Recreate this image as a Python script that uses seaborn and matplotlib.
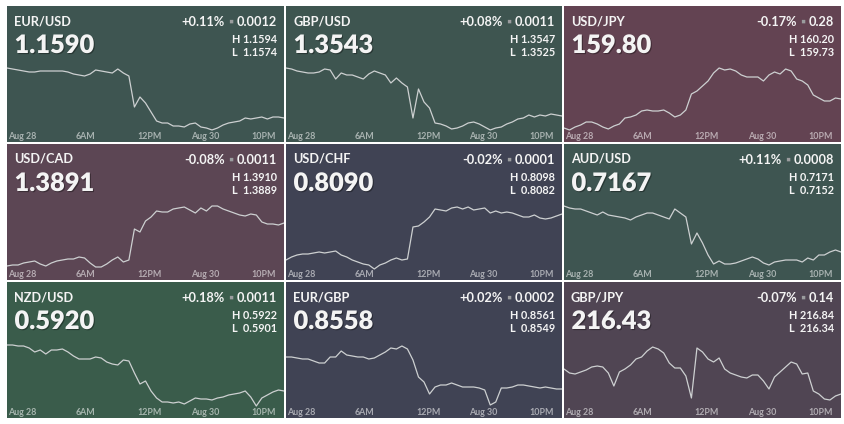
import matplotlib
matplotlib.use("Agg")
import matplotlib.pyplot as plt
import matplotlib.patheffects as pe
import seaborn as sns

# ------------------------------------------------------------
# DATA
# ------------------------------------------------------------
pairs = ["EUR/USD", "GBP/USD", "USD/JPY",
         "USD/CAD", "USD/CHF", "AUD/USD",
         "NZD/USD", "EUR/GBP", "GBP/JPY"]
prices = ["1.1590", "1.3543", "159.80",
          "1.3891", "0.8090", "0.7167",
          "0.5920", "0.8558", "216.43"]
pct_changes = ["+0.11%", "+0.08%", "-0.17%",
               "-0.08%", "-0.02%", "+0.11%",
               "+0.18%", "+0.02%", "-0.07%"]
abs_changes = ["0.0012", "0.0011", "0.28",
               "0.0011", "0.0001", "0.0008",
               "0.0011", "0.0002", "0.14"]
highs = ["1.1594", "1.3547", "160.20",
         "1.3910", "0.8098", "0.7171",
         "0.5922", "0.8561", "216.84"]
lows = ["1.1574", "1.3525", "159.73",
        "1.3889", "0.8082", "0.7152",
        "0.5901", "0.8549", "216.34"]
panel_colors = ["#3e5551", "#3e5550", "#634352",
                "#5c4654", "#404354", "#3e5551",
                "#3a5c4b", "#404354", "#504553"]

# session time, % of the window shown
session = list(range(0, 101, 2))
tick_pos = [0.5, 28.5, 51.5, 71.5, 92.5]
tick_labels = ["Aug 28", "6AM", "12PM", "Aug 30", "10PM"]

# relative sparkline levels
eurusd = [74, 73, 72, 71, 70, 70, 71, 71, 71, 71, 71, 70, 68, 67, 66, 68, 72,
          71, 70, 69, 73, 69, 66, 35, 45, 39, 30, 21, 19, 19, 16, 16, 15, 18,
          19, 15, 14, 12, 14, 17, 19, 20, 21, 24, 23, 24, 25, 23, 25, 25, 24]
gbpusd = [74, 73, 71, 70, 69, 69, 70, 73, 72, 63, 69, 67, 67, 65, 63, 68, 71,
          69, 67, 59, 64, 59, 55, 24, 53, 40, 34, 19, 18, 16, 13, 14, 16, 19,
          20, 18, 15, 12, 14, 15, 18, 20, 23, 24, 27, 25, 27, 26, 28, 27, 26]
usdjpy = [14, 12, 15, 17, 20, 20, 18, 15, 13, 16, 18, 24, 25, 27, 31, 32, 31,
          31, 32, 29, 25, 27, 32, 48, 51, 56, 61, 69, 74, 72, 73, 71, 67, 65,
          65, 65, 61, 67, 70, 68, 73, 71, 63, 61, 57, 47, 44, 41, 41, 44, 43]
usdcad = [14, 15, 15, 17, 18, 19, 16, 14, 17, 19, 20, 21, 21, 23, 22, 17, 13,
          13, 16, 20, 23, 18, 20, 51, 48, 59, 63, 69, 68, 68, 71, 72, 73, 70,
          67, 72, 69, 74, 74, 71, 69, 67, 65, 64, 66, 65, 58, 56, 56, 55, 57]
usdchf = [20, 23, 25, 26, 26, 27, 28, 27, 28, 29, 25, 23, 20, 18, 16, 15, 11,
          15, 17, 20, 22, 20, 21, 53, 54, 58, 63, 71, 70, 69, 72, 73, 71, 73,
          70, 71, 72, 67, 69, 67, 68, 67, 65, 63, 63, 65, 62, 61, 62, 64, 66]
audusd = [74, 72, 71, 71, 69, 67, 65, 68, 65, 64, 63, 62, 60, 63, 65, 67, 67,
          65, 63, 61, 71, 67, 63, 36, 47, 37, 25, 16, 19, 16, 16, 17, 19, 21,
          23, 21, 17, 15, 18, 19, 20, 20, 20, 18, 22, 20, 25, 25, 28, 30, 28]
nzdusd = [73, 73, 72, 72, 70, 66, 68, 64, 68, 68, 69, 66, 62, 59, 59, 59, 61,
          60, 56, 54, 53, 58, 57, 45, 34, 37, 27, 20, 16, 16, 15, 16, 14, 17,
          20, 19, 19, 18, 20, 21, 23, 24, 25, 27, 21, 12, 20, 23, 26, 28, 27]
eurgbp = [61, 61, 60, 59, 59, 57, 55, 55, 61, 61, 67, 63, 62, 61, 61, 59, 60,
          63, 66, 70, 69, 72, 69, 58, 41, 36, 24, 31, 33, 33, 35, 33, 31, 31,
          31, 30, 28, 13, 16, 30, 30, 31, 33, 33, 32, 31, 30, 31, 30, 29, 29]
gbpjpy = [49, 45, 44, 46, 48, 51, 52, 51, 45, 32, 46, 49, 53, 59, 61, 67, 71,
          69, 65, 55, 50, 50, 42, 20, 70, 66, 59, 56, 60, 49, 45, 43, 41, 40,
          43, 43, 37, 29, 41, 46, 51, 56, 54, 44, 45, 27, 24, 19, 18, 22, 24]
series = [eurusd, gbpusd, usdjpy, usdcad, usdchf, audusd, nzdusd, eurgbp, gbpjpy]

# ------------------------------------------------------------
# LAYOUT
# ------------------------------------------------------------
sns.set_style("white")
plt.rcParams['font.family'] = ['Lato', 'DejaVu Sans']

FIG_W, FIG_H = 845, 424
col_left = [7, 286, 564]
col_w = [277, 276, 277]
row_top = [6, 144, 282]
PANEL_H = 136

text_color = "#f4f4f4"
line_color = "#cdd0d1"
sep_color = "#9a9c9e"

fig = plt.figure(figsize=(FIG_W / 100, FIG_H / 100), dpi=100)
fig.patch.set_facecolor("white")

for i in range(9):
    r, c = divmod(i, 3)
    w = col_w[c]
    ax = fig.add_axes([col_left[c] / FIG_W,
                       1 - (row_top[r] + PANEL_H) / FIG_H,
                       w / FIG_W, PANEL_H / FIG_H])
    ax.set_facecolor(panel_colors[i])
    for s in ax.spines.values():
        s.set_visible(False)

    sns.lineplot(x=session, y=series[i], ax=ax, color=line_color,
                 linewidth=0.9, legend=False)
    ax.set_xlim(0, 100)
    ax.set_ylim(0, PANEL_H)
    ax.set_xlabel('')
    ax.set_ylabel('')
    ax.set_yticks([])

    ax.set_xticks(tick_pos, tick_labels)
    ax.tick_params(axis='x', direction='in', length=0, pad=-7.2,
                   labelsize=6.4, labelcolor=(1, 1, 1, 0.55))
    for lab in ax.get_xticklabels():
        lab.set_fontweight('bold')
    ax.get_xticklabels()[0].set_ha('left')

    def fx(px):
        return px / w

    def fy(py):
        return 1 - py / PANEL_H

    ax.text(fx(7), fy(19), pairs[i], transform=ax.transAxes,
            ha='left', va='baseline', color=text_color,
            fontsize=9.2, fontweight='bold')
    ax.text(fx(7.5), fy(47), prices[i], transform=ax.transAxes,
            ha='left', va='baseline', color=text_color,
            fontsize=18.3, fontweight='heavy',
            path_effects=[pe.SimplePatchShadow(offset=(0.8, -0.8),
                                               shadow_rgbFace='black',
                                               alpha=0.35),
                          pe.Normal()])

    # change line: pct  ▪  abs
    val = ax.text(1 - fx(7), fy(20), abs_changes[i], transform=ax.transAxes,
                  ha='right', va='baseline', color=text_color,
                  fontsize=9.2, fontweight='bold')
    sep = ax.annotate("\u25aa", xy=(0, 0), xycoords=val,
                      xytext=(-2.5, 0), textcoords='offset points',
                      ha='right', va='bottom', color=sep_color,
                      fontsize=9.2)
    ax.annotate(pct_changes[i], xy=(0, 0), xycoords=sep,
                xytext=(-2.5, 0), textcoords='offset points',
                ha='right', va='bottom', color=text_color,
                fontsize=9.2, fontweight='bold')

    ax.text(1 - fx(7), fy(37), "H " + highs[i], transform=ax.transAxes,
            ha='right', va='baseline', color=text_color,
            fontsize=7.8, fontweight='bold')
    ax.text(1 - fx(7), fy(50.5), "L  " + lows[i], transform=ax.transAxes,
            ha='right', va='baseline', color=text_color,
            fontsize=7.8, fontweight='bold')

fig.savefig("out.png", dpi=100, facecolor=fig.get_facecolor())
plt.close(fig)
